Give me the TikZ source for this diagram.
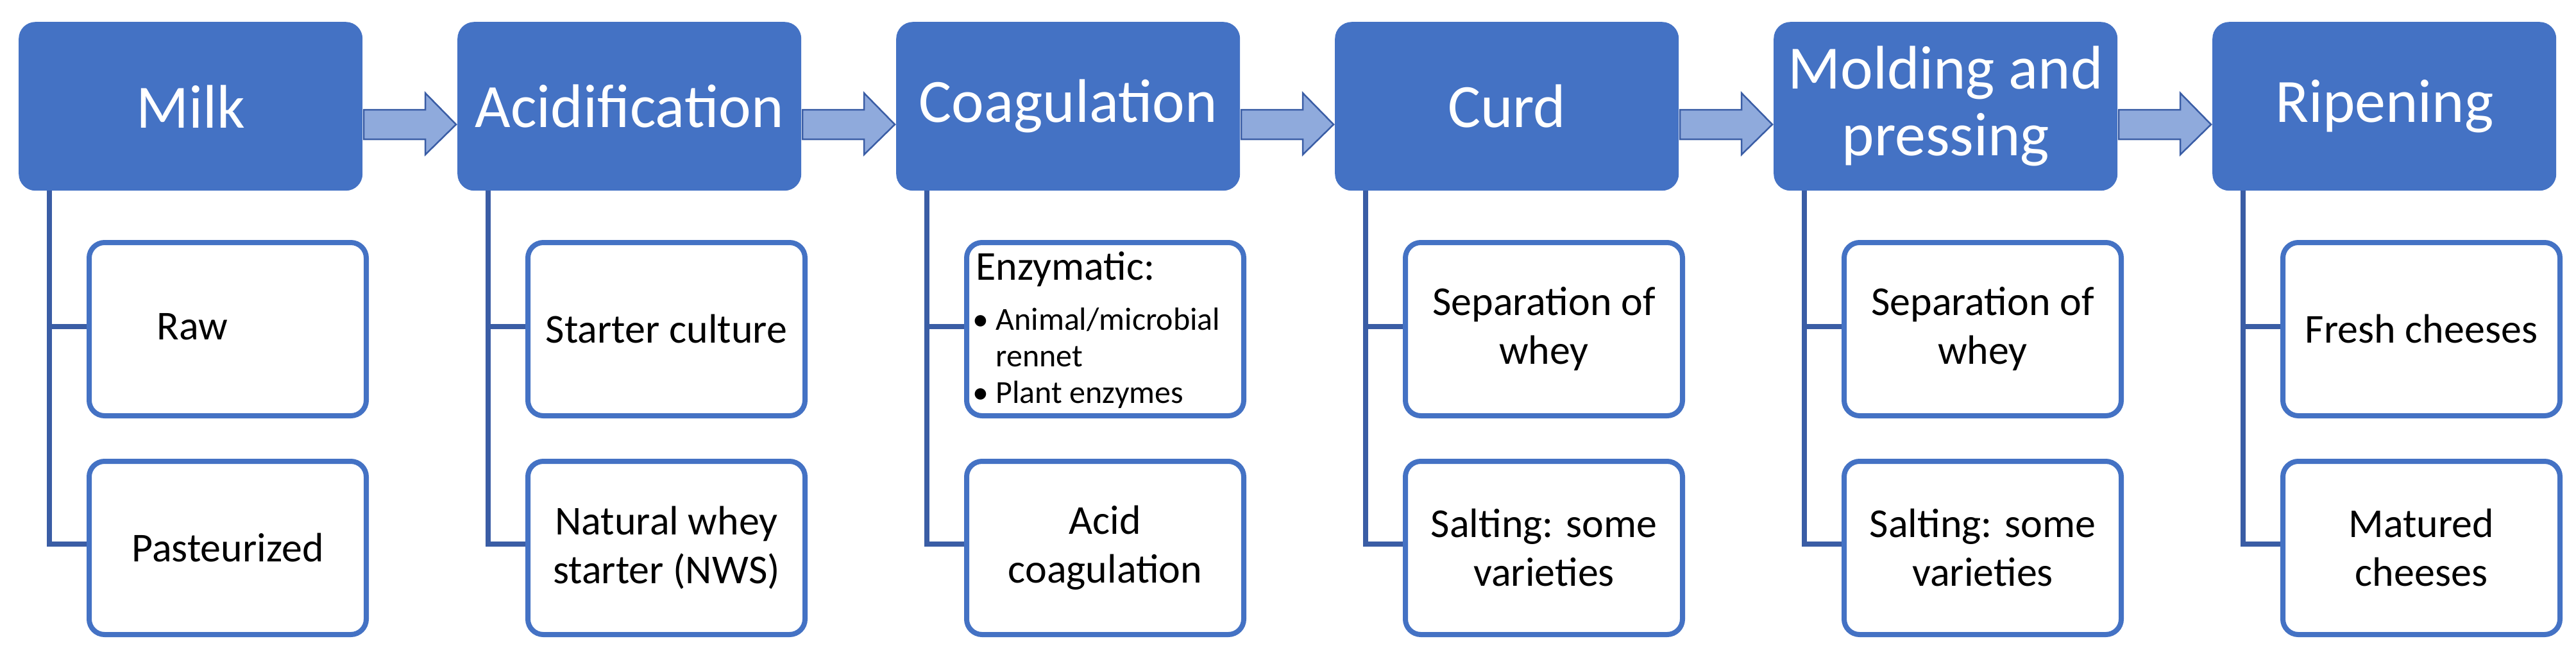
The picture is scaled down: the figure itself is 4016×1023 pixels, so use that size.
\documentclass[tikz,border=0pt]{standalone}
\usepackage{fontspec}
\setmainfont{Carlito}
\definecolor{hdr}{HTML}{4472C4}
\definecolor{arr}{HTML}{8FAADC}
\definecolor{dk}{HTML}{3A5DA5}
\begin{document}
\begin{tikzpicture}[x=1pt,y=-1pt,
  hbox/.style={fill=hdr,draw=none,rounded corners=26pt,minimum width=536pt,minimum height=263pt,anchor=north west,text=white,font=\fontsize{96}{104}\selectfont,align=center,inner sep=0pt},
  sbox/.style={draw=hdr,line width=8pt,fill=white,rounded corners=24pt,minimum width=432pt,minimum height=270pt,anchor=north west,font=\fontsize{64}{76}\selectfont,align=center,inner sep=0pt},
  tree/.style={draw=dk,line width=8pt},
  flow/.style={fill=arr,draw=dk,line width=2.5pt,line join=miter}]
\useasboundingbox (0,0) rectangle (4016,1023);
\foreach \i/\h/\a/\b in {0/{Milk}/{}/{Pasteurized},1/{Acidification}/{Starter culture}/{Natural whey\\starter (NWS)},2/{Coagulation}/{}/{Acid\\coagulation},3/{Curd}/{Separation of\\whey}/{Salting: some\\varieties},4/{Molding and\\pressing}/{Separation of\\whey}/{Salting: some\\varieties},5/{Ripening}/{Fresh cheeses}/{Matured\\cheeses}}{
  \pgfmathsetmacro\xo{29+684*\i}
  \node[hbox] (h\i) at (\xo,34) {\h};
  \draw[tree] (\xo+48,297) -- (\xo+48,848) -- (\xo+106,848);
  \draw[tree] (\xo+48,509) -- (\xo+106,509);
  \node[sbox] (a\i) at (\xo+106,374) {\a};
  \node[sbox] (b\i) at (\xo+106,715) {\b};
}
\node[font=\fontsize{64}{76}\selectfont] (raw) at (300,509) {Raw};
\node[anchor=north west,font=\fontsize{64}{76}\selectfont,inner sep=0pt] (enz) at (1521,392) {Enzymatic:};
\node[anchor=north west,align=left,font=\fontsize{50}{57}\selectfont,inner sep=0pt] (bul) at (1516,480) {\textbullet\ Animal/microbial\\\phantom{\textbullet\ }rennet\\\textbullet\ Plant enzymes};
\foreach \i in {0,...,4}{
  \pgfmathsetmacro\xa{567+684*\i}
  \filldraw[flow] (\xa,171) -- (\xa+96,171) -- (\xa+96,145) -- (\xa+144,194) -- (\xa+96,241) -- (\xa+96,217) -- (\xa,217) -- cycle;
}
\end{tikzpicture}
\end{document}
